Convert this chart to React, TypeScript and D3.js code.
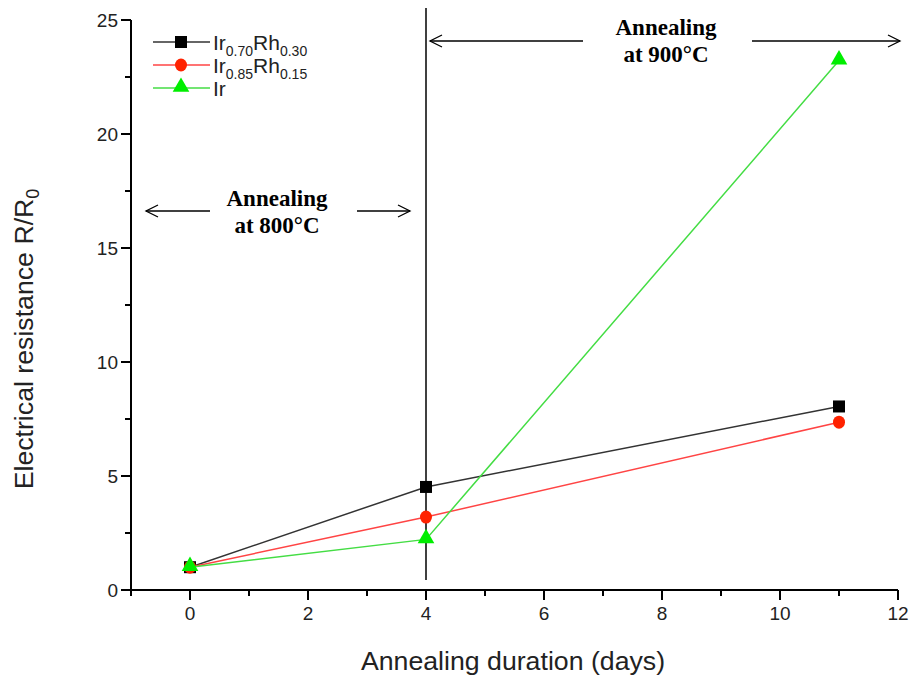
import React from "react";
import * as d3 from "d3";

const days = [0, 4, 11];
const ir70 = [1.0, 4.52, 8.05];
const ir85 = [1.0, 3.2, 7.36];
const irPure = [1.0, 2.22, 23.22];
const xTicks = [0, 2, 4, 6, 8, 10, 12];
const yTicks = [0, 5, 10, 15, 20, 25];

const W = 911, H = 679;
const x = d3.scaleLinear().domain([-1, 12]).range([131, 898]);
const y = d3.scaleLinear().domain([0, 25]).range([590, 20]);

const series = [
  { name: "ir70", vals: ir70, color: "#000000", lineColor: "#333333", marker: "square" },
  { name: "ir85", vals: ir85, color: "#ff2200", lineColor: "#ff4444", marker: "circle" },
  { name: "ir", vals: irPure, color: "#00ee00", lineColor: "#44dd44", marker: "triangle" },
];

function Marker({ type, cx, cy, color }: any) {
  if (type === "square") return <rect x={cx - 6} y={cy - 6} width={12} height={12} fill={color} />;
  if (type === "circle") return <ellipse cx={cx} cy={cy} rx={6} ry={6.5} fill={color} />;
  const s = d3.symbol().type(d3.symbolTriangle).size(120)();
  return <path d={s || ""} transform={`translate(${cx},${cy - 1})`} fill={color} />;
}

function Arrow({ x1, x2, yy }: any) {
  const dir = x2 > x1 ? 1 : -1;
  return (
    <g stroke="#000" strokeWidth={1.3} fill="none">
      <line x1={x1} y1={yy} x2={x2} y2={yy} />
      <path d={`M${x2 - dir * 12},${yy - 6} L${x2},${yy} L${x2 - dir * 12},${yy + 6}`} />
    </g>
  );
}

export default function App() {
  const line = d3.line<number>().x((_, i) => x(days[i])).y((v) => y(v));
  const minorX = d3.range(-1, 12.01, 1);
  const minorY = d3.range(0, 25.01, 2.5);
  const sans = "Arial, 'Liberation Sans', sans-serif";
  const serif = "'Times New Roman', 'Liberation Serif', serif";
  return (
    <svg width={W} height={H} style={{ position: "absolute", left: 0, top: 0, background: "#fff" }}>
      <rect width={W} height={H} fill="#fff" />
      {/* vertical divider */}
      <line x1={x(4)} x2={x(4)} y1={8} y2={580} stroke="#000" strokeWidth={1.5} />
      {/* axes */}
      <line x1={x(-1)} x2={x(12)} y1={y(0)} y2={y(0)} stroke="#000" strokeWidth={2} />
      <line x1={x(-1)} x2={x(-1)} y1={y(0)} y2={y(25)} stroke="#000" strokeWidth={2} />
      {minorX.map((t) => (
        <line key={"mx" + t} x1={x(t)} x2={x(t)} y1={y(0)} y2={y(0) + (xTicks.includes(t) ? 10 : 6)} stroke="#000" strokeWidth={2} />
      ))}
      {minorY.map((t) => (
        <line key={"my" + t} x1={x(-1)} x2={x(-1) - (yTicks.includes(t) ? 10 : 6)} y1={y(t)} y2={y(t)} stroke="#000" strokeWidth={2} />
      ))}
      {xTicks.map((t) => (
        <text key={"xt" + t} x={x(t)} y={y(0) + 30} textAnchor="middle" fontFamily={sans} fontSize={19} fill="#222">{t}</text>
      ))}
      {yTicks.map((t) => (
        <text key={"yt" + t} x={x(-1) - 13} y={y(t) + 7} textAnchor="end" fontFamily={sans} fontSize={19} fill="#222">{t}</text>
      ))}
      <text x={513} y={670} textAnchor="middle" fontFamily={sans} fontSize={26.7} fill="#222">Annealing duration (days)</text>
      <text transform={`translate(33,339) rotate(-90)`} textAnchor="middle" fontFamily={sans} fontSize={26.7} fill="#222">
        Electrical resistance R/R<tspan fontSize={18} dy={6}>0</tspan>
      </text>
      {/* series */}
      {series.map((s) => (
        <g key={s.name}>
          <path d={line(s.vals) || ""} fill="none" stroke={s.lineColor} strokeWidth={1.5} />
          {s.vals.map((v, i) => (
            <Marker key={i} type={s.marker} cx={x(days[i])} cy={y(v)} color={s.color} />
          ))}
        </g>
      ))}
      {/* legend */}
      {series.map((s, i) => {
        const ly = 42 + i * 23;
        return (
          <g key={"lg" + s.name}>
            <line x1={153} x2={210} y1={ly} y2={ly} stroke={s.lineColor} strokeWidth={1.5} />
            <Marker type={s.marker} cx={181} cy={ly} color={s.color} />
          </g>
        );
      })}
      <text x={213} y={50} fontFamily={sans} fontSize={21} fill="#222">
        Ir<tspan fontSize={14} dy={6}>0.70</tspan><tspan dy={-6}>Rh</tspan><tspan fontSize={14} dy={6}>0.30</tspan>
      </text>
      <text x={213} y={73} fontFamily={sans} fontSize={21} fill="#222">
        Ir<tspan fontSize={14} dy={6}>0.85</tspan><tspan dy={-6}>Rh</tspan><tspan fontSize={14} dy={6}>0.15</tspan>
      </text>
      <text x={213} y={96} fontFamily={sans} fontSize={21} fill="#222">Ir</text>
      {/* annotations */}
      <Arrow x1={210} x2={146} yy={211} />
      <Arrow x1={357} x2={410} yy={211} />
      <text x={277} y={206} textAnchor="middle" fontFamily={serif} fontWeight="bold" fontSize={23}>Annealing</text>
      <text x={277} y={233} textAnchor="middle" fontFamily={serif} fontWeight="bold" fontSize={23}>at 800°C</text>
      <Arrow x1={583} x2={430} yy={41} />
      <Arrow x1={752} x2={900} yy={41} />
      <text x={666} y={35} textAnchor="middle" fontFamily={serif} fontWeight="bold" fontSize={23}>Annealing</text>
      <text x={666} y={62} textAnchor="middle" fontFamily={serif} fontWeight="bold" fontSize={23}>at 900°C</text>
    </svg>
  );
}
